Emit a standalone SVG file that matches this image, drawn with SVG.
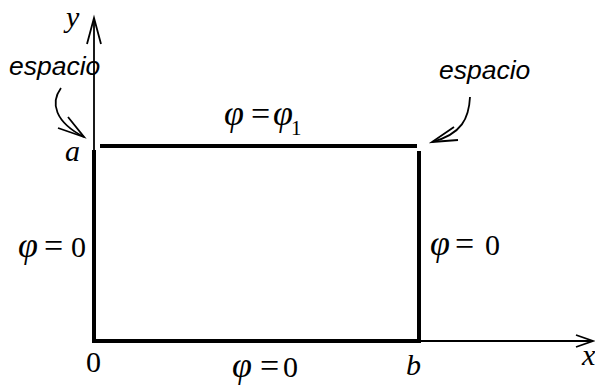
<svg xmlns="http://www.w3.org/2000/svg" width="595" height="385" viewBox="0 0 595 385">
<style>
.m{font-family:"Liberation Serif","Times New Roman",serif;font-size:30px;fill:#000}
.i{font-style:italic}
.p{font-size:36px;font-style:italic}
.e{font-size:34px}
.s{font-family:"Liberation Sans",Arial,sans-serif;font-style:italic;font-size:26.5px;fill:#000}
.thin{stroke:#000;stroke-width:1.8;fill:none}
.thick{stroke:#000;stroke-width:4;fill:none}
</style>
<rect width="595" height="385" fill="#fff"/>
<g id="axes">
<line class="thin" x1="94" y1="341" x2="94" y2="18"/>
<polyline class="thin" points="87,44 94,18 101,44"/>
<line class="thin" x1="94" y1="341" x2="593" y2="341"/>
<polyline class="thin" points="576,335 593,341 576,347"/>
</g>
<g id="boundary">
<polyline class="thick" points="94,150 94,341 419,341 419,151"/>
<line class="thick" x1="100" y1="146" x2="417" y2="146"/>
</g>
<g id="connectors">
<path class="thin" d="M61,88 C50,103 55,122 84,137"/>
<polyline class="thin" points="58,128 84,137 68,117"/>
<path class="thin" d="M470,97 C469,118 462,134 432,142"/>
<polyline class="thin" points="458,140 432,142 454,127"/>
</g>
<g id="labels">
<text class="m i" x="66" y="27">y</text>
<text class="s" x="9" y="75">espacio</text>
<text class="s" x="439" y="79">espacio</text>
<text class="m i" x="65" y="161">a</text>
<text class="m" x="86" y="372">0</text>
<text class="m i" x="406" y="375">b</text>
<text class="m i" x="582" y="365">x</text>
<text class="m" y="125"><tspan class="p" x="224">φ</tspan><tspan class="e" x="251">=</tspan><tspan class="p" x="273">φ</tspan></text>
<text class="m" x="291" y="135" style="font-size:21px">1</text>
<text class="m" y="257"><tspan class="p" x="18">φ</tspan><tspan class="e" x="44">=</tspan><tspan x="71">0</tspan></text>
<text class="m" y="255"><tspan class="p" x="430">φ</tspan><tspan class="e" x="455">=</tspan><tspan x="485">0</tspan></text>
<text class="m" y="377"><tspan class="p" x="232">φ</tspan><tspan class="e" x="260">=</tspan><tspan x="283">0</tspan></text>
</g>
</svg>
